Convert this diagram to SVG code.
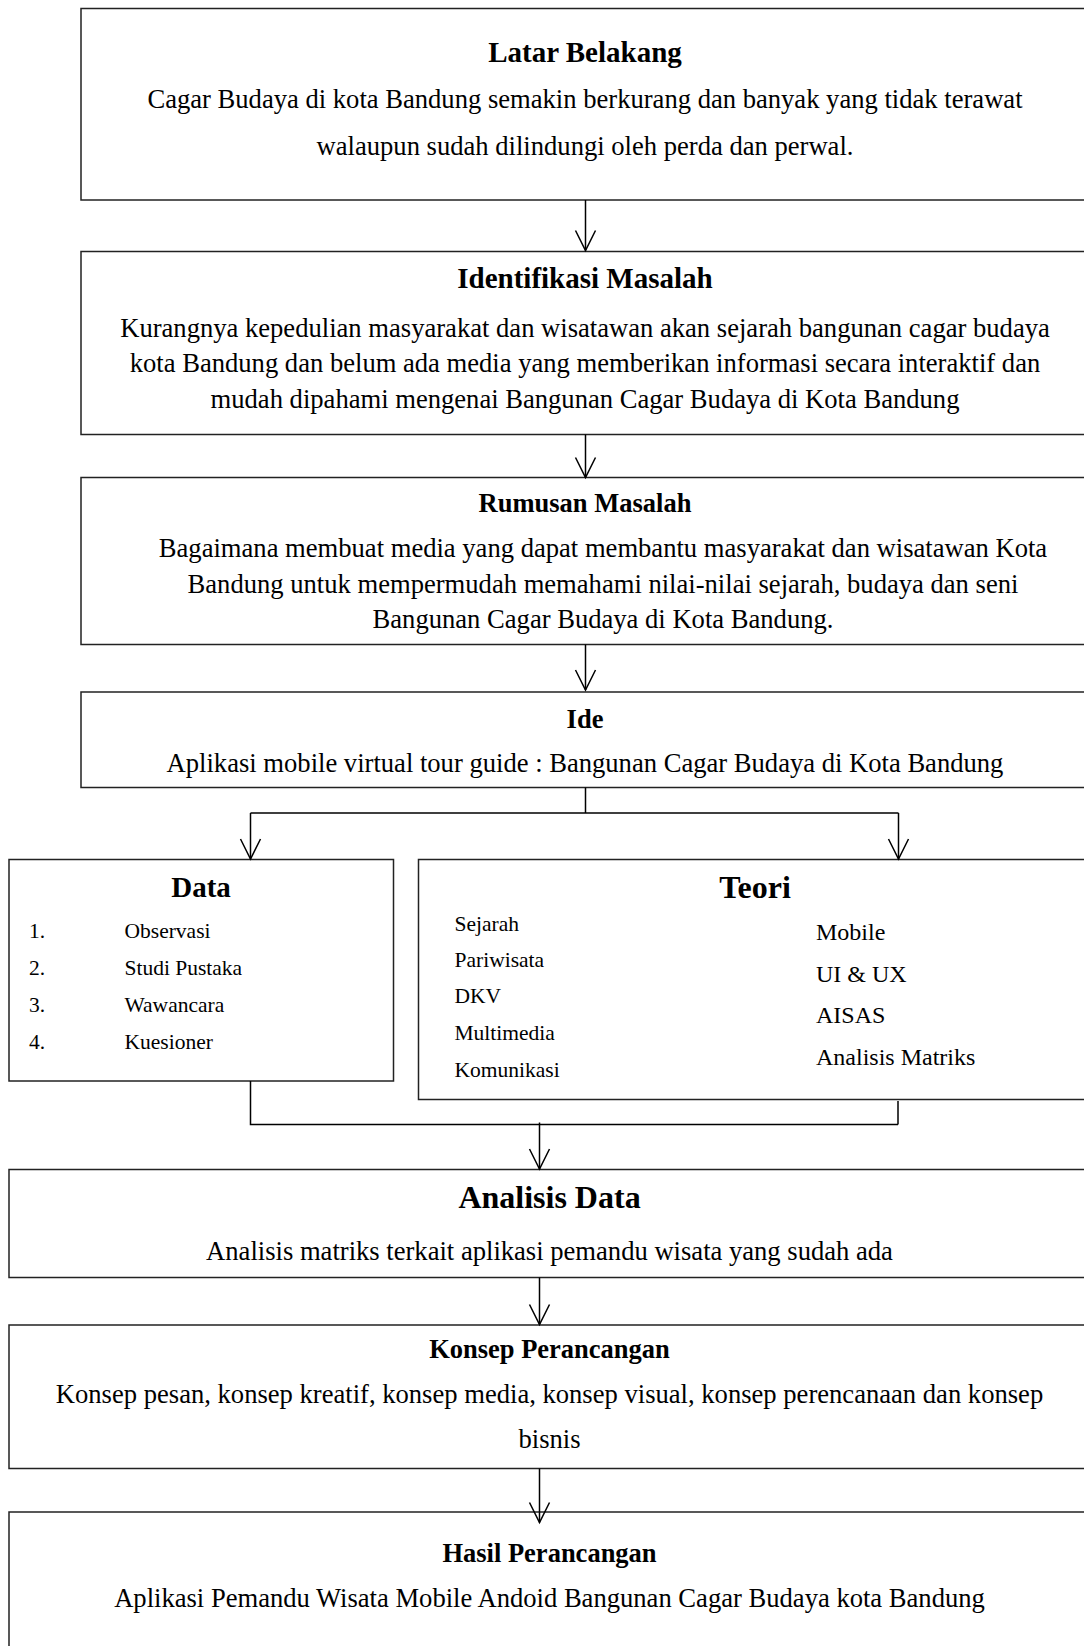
<svg xmlns="http://www.w3.org/2000/svg" width="1084" height="1646" viewBox="0 0 1084 1646">
<style>
.box{fill:#fff;stroke:#222;stroke-width:1.5}
.t{font-family:"Liberation Serif","Times New Roman",serif;fill:#000}
.ttl{font-weight:bold;font-size:26.5px;text-anchor:middle}
.big{font-weight:bold;font-size:29px;text-anchor:middle}
.big2{font-weight:bold;font-size:32px;text-anchor:middle}
.body{font-size:26.6px;text-anchor:middle}
.item{font-size:21.5px}
.item2{font-size:24px}
.con{fill:none;stroke:#000;stroke-width:1.5}
</style>
<defs>
<marker id="ah" markerWidth="24" markerHeight="24" refX="21" refY="11" orient="auto" markerUnits="userSpaceOnUse" viewBox="0 0 24 24">
<path d="M1,1 L21,11 L1,21" fill="none" stroke="#000" stroke-width="1.5"/>
</marker>
</defs>
<rect width="1084" height="1646" fill="#fff"/>
<g id="latar">
<rect class="box" x="81" y="8.5" width="1020" height="191.5"/>
<text class="t big" x="585" y="61.5">Latar Belakang</text>
<text class="t body" x="585" y="108">Cagar Budaya di kota Bandung semakin berkurang dan banyak yang tidak terawat</text>
<text class="t body" x="585" y="155">walaupun sudah dilindungi oleh perda dan perwal.</text>
</g>
<g id="identifikasi">
<rect class="box" x="81" y="251.5" width="1020" height="183"/>
<text class="t big" x="585" y="288">Identifikasi Masalah</text>
<text class="t body" x="585" y="337">Kurangnya kepedulian masyarakat dan wisatawan akan sejarah bangunan cagar budaya</text>
<text class="t body" x="585" y="372">kota Bandung dan belum ada media yang memberikan informasi secara interaktif dan</text>
<text class="t body" x="585" y="408">mudah dipahami mengenai Bangunan Cagar Budaya di Kota Bandung</text>
</g>
<g id="rumusan">
<rect class="box" x="81" y="477.5" width="1020" height="167"/>
<text class="t ttl" x="585" y="511.5">Rumusan Masalah</text>
<text class="t body" x="603" y="556.5">Bagaimana membuat media yang dapat membantu masyarakat dan wisatawan Kota</text>
<text class="t body" x="603" y="593">Bandung untuk mempermudah memahami nilai-nilai sejarah, budaya dan seni</text>
<text class="t body" x="603" y="628">Bangunan Cagar Budaya di Kota Bandung.</text>
</g>
<g id="ide">
<rect class="box" x="81" y="692" width="1020" height="95.5"/>
<text class="t ttl" x="585" y="728">Ide</text>
<text class="t body" x="585" y="771.5">Aplikasi mobile virtual tour guide : Bangunan Cagar Budaya di Kota Bandung</text>
</g>
<g id="data">
<rect class="box" x="9" y="859.5" width="384.5" height="221.5"/>
<text class="t big" x="201" y="896.5">Data</text>
<text class="t item" x="29" y="938">1.</text>
<text class="t item" x="124.5" y="938">Observasi</text>
<text class="t item" x="29" y="975">2.</text>
<text class="t item" x="124.5" y="975">Studi Pustaka</text>
<text class="t item" x="29" y="1011.5">3.</text>
<text class="t item" x="124.5" y="1011.5">Wawancara</text>
<text class="t item" x="29" y="1049">4.</text>
<text class="t item" x="124.5" y="1049">Kuesioner</text>
</g>
<g id="teori">
<rect class="box" x="418.5" y="859.5" width="680" height="240"/>
<text class="t big2" x="755" y="898">Teori</text>
<text class="t item" x="454.5" y="930.5">Sejarah</text>
<text class="t item" x="454.5" y="966.5">Pariwisata</text>
<text class="t item" x="454.5" y="1003">DKV</text>
<text class="t item" x="454.5" y="1040">Multimedia</text>
<text class="t item" x="454.5" y="1076.5">Komunikasi</text>
<text class="t item2" x="816" y="940">Mobile</text>
<text class="t item2" x="816" y="981.5">UI &amp; UX</text>
<text class="t item2" x="816" y="1023">AISAS</text>
<text class="t item2" x="816" y="1065">Analisis Matriks</text>
</g>
<g id="analisis">
<rect class="box" x="9" y="1169.5" width="1090" height="108"/>
<text class="t big2" x="549.5" y="1208">Analisis Data</text>
<text class="t body" x="549.5" y="1259.5">Analisis matriks terkait aplikasi pemandu wisata yang sudah ada</text>
</g>
<g id="konsep">
<rect class="box" x="9" y="1325" width="1090" height="143.5"/>
<text class="t ttl" x="549.5" y="1358">Konsep Perancangan</text>
<text class="t body" x="549.5" y="1403">Konsep pesan, konsep kreatif, konsep media, konsep visual, konsep perencanaan dan konsep</text>
<text class="t body" x="549.5" y="1448">bisnis</text>
</g>
<g id="hasil">
<rect class="box" x="9" y="1512" width="1090" height="150"/>
<text class="t ttl" x="549.5" y="1561.5">Hasil Perancangan</text>
<text class="t body" x="549.5" y="1606.5">Aplikasi Pemandu Wisata Mobile Andoid Bangunan Cagar Budaya kota Bandung</text>
</g>
<g id="connectors">
<path class="con" d="M585.5,200 V250.5" marker-end="url(#ah)"/>
<path class="con" d="M585.5,434.5 V477.5" marker-end="url(#ah)"/>
<path class="con" d="M585.5,644.5 V690" marker-end="url(#ah)"/>
<path class="con" d="M585.5,787.5 V813 M250.5,813 H898.5"/>
<path class="con" d="M250.5,813 V859" marker-end="url(#ah)"/>
<path class="con" d="M898.5,813 V859" marker-end="url(#ah)"/>
<path class="con" d="M250.5,1081 V1124.5 H898 M898,1101 V1124.5"/>
<path class="con" d="M539.5,1122.5 V1169" marker-end="url(#ah)"/>
<path class="con" d="M539.5,1277.5 V1324.5" marker-end="url(#ah)"/>
<path class="con" d="M539.5,1468.5 V1522.5" marker-end="url(#ah)"/>
</g>
</svg>
